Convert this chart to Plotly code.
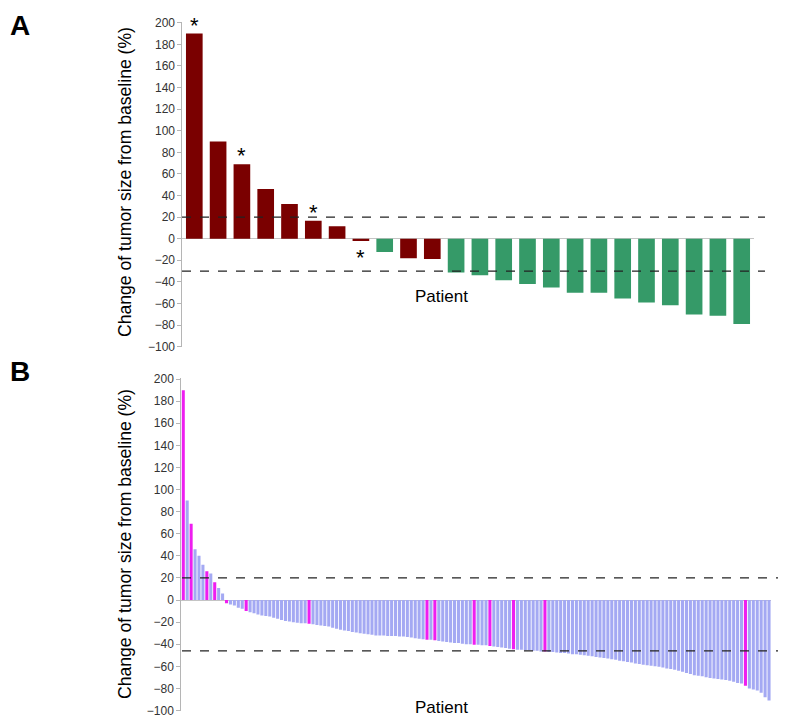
import plotly.graph_objects as go

# Panel A: per-patient change of tumour size (%)
a_values = [190, 90, 69, 46, 32, 16.6, 11.4, -2.2, -12.3, -18.2, -18.8,
            -31.4, -33.9, -38.5, -41.9, -45.3, -50.2, -50.2, -55.4, -59.1,
            -61.6, -70.2, -71.4, -79.1]
a_group = ["r", "r", "r", "r", "r", "r", "r", "r", "g", "r", "r",
           "g", "g", "g", "g", "g", "g", "g", "g", "g", "g", "g", "g", "g"]
a_starred = [0, 2, 5, 7]

# Panel B: all patients
b_values = [190, 90, 69, 46, 40, 32, 26, 24, 16, 11, 6, -3, -4, -5, -7, -8,
            -10, -11, -12, -13, -14, -14.5, -15, -16, -17, -18, -19, -19.5,
            -20, -20.5, -21, -21, -21.5, -22, -22.5, -23, -23.5, -24, -25,
            -26, -27, -27.5, -28, -29, -29.5, -30, -30.5, -31, -31.5, -32,
            -32, -32, -32.5, -32.5, -32.5, -33, -33, -33.5, -34, -34.5, -35,
            -35.5, -36, -36, -36.5, -37, -37.5, -38, -38.5, -39, -39, -39.5,
            -40, -40, -40.5, -40.5, -41, -41, -41.5, -42, -42.5, -43, -43.5,
            -44, -44.5, -45, -45, -45.5, -45.5, -46, -46, -46.5, -46.5, -47,
            -47, -47.5, -48, -48, -48.5, -49, -49, -49.5, -50, -50.5, -51,
            -51.5, -52, -52.5, -53, -53.5, -54, -55, -55.5, -56, -56.5, -57.5,
            -58, -58.5, -59, -59.5, -60, -60.5, -61, -62, -62.5, -63, -64,
            -65, -66, -67, -68, -68.5, -69, -70, -70.5, -71, -71.5, -72,
            -72.5, -73, -74, -75, -75.5, -77.5, -80, -81, -82, -84, -88, -91]
b_highlight = [0, 2, 6, 8, 11, 16, 32, 62, 64, 74, 78, 84, 92, 143]

a_cut_hi, a_cut_lo = 20, -30
b_cut_hi, b_cut_lo = 20, -46
y_ticks = list(range(-100, 201, 20))

RED = "#7a0000"
GREEN = "#359a68"
BLUE = "#a4a9f3"
MAGENTA = "#ee1ef0"
FONT = "Arial, Liberation Sans, sans-serif"

# the page body has an 8px margin, so the figure starts at (8, 8)
OFF = 8
W, H = 786 - OFF, 718 - OFF


def px_x(v):
    return (v - OFF) / W


def px_y(v):
    return 1 - (v - OFF) / H


a_colors = [RED if g == "r" else GREEN for g in a_group]
b_colors = [MAGENTA if i in b_highlight else BLUE for i in range(len(b_values))]

fig = go.Figure()
fig.add_trace(go.Bar(x=list(range(len(a_values))), y=a_values, marker_color=a_colors,
                     marker_line_width=0, xaxis="x", yaxis="y", showlegend=False))
fig.add_trace(go.Bar(x=list(range(len(b_values))), y=b_values, marker_color=b_colors,
                     marker_line_width=0, width=0.78, xaxis="x2", yaxis="y2", showlegend=False))

yax = dict(range=[-100, 201], tickvals=y_ticks, showgrid=False, showline=True,
           linecolor="#b5b5b5", linewidth=1, ticks="outside", ticklen=4,
           tickcolor="#b5b5b5", tickfont=dict(family=FONT, size=12, color="#333333"),
           zeroline=True, zerolinecolor="#c4c4c4", zerolinewidth=1, automargin=False)
xax = dict(showticklabels=False, showgrid=False, showline=False, zeroline=False, ticks="",
           automargin=False)

fig.update_layout(
    width=W, height=H, margin=dict(l=0, r=0, t=0, b=0, autoexpand=False),
    plot_bgcolor="white", paper_bgcolor="white", bargap=0.3,
    xaxis=dict(xax, domain=[px_x(182.4), px_x(753.6)], range=[-0.5, len(a_values) - 0.5], anchor="y"),
    yaxis=dict(yax, domain=[px_y(346.6), px_y(21.7)], anchor="x"),
    xaxis2=dict(xax, domain=[px_x(181.3), min(1, px_x(771))], range=[-0.5, len(b_values) - 0.5], anchor="y2"),
    yaxis2=dict(yax, domain=[px_y(710.5), px_y(378)], anchor="x2"),
)

# dashed cut-off lines
for y0, xr, x1 in [(a_cut_hi, "y", 765), (a_cut_lo, "y", 765), (b_cut_hi, "y2", 786), (b_cut_lo, "y2", 786)]:
    fig.add_shape(type="line", xref="paper", yref=xr, x0=px_x(182), x1=px_x(x1), y0=y0, y1=y0,
                  line=dict(color="#222222", width=1.3, dash="dash"))

# stars on panel A
for i in a_starred:
    v = a_values[i]
    if v >= 0:
        fig.add_annotation(x=i, y=v, xref="x", yref="y", text="*", showarrow=False,
                           yanchor="bottom", yshift=-6, font=dict(family=FONT, size=22, color="black"))
    else:
        fig.add_annotation(x=i, y=v, xref="x", yref="y", text="*", showarrow=False,
                           yanchor="top", yshift=-2, font=dict(family=FONT, size=22, color="black"))

ytitle = "Change of tumor size from baseline (%)"
for yc in [182, 544]:
    fig.add_annotation(x=px_x(125), y=px_y(yc), xref="paper", yref="paper", text=ytitle,
                       xanchor="center", yanchor="middle", textangle=-90, showarrow=False,
                       font=dict(family=FONT, size=17.6, color="black"))
for yc in [296, 707]:
    fig.add_annotation(x=px_x(441), y=px_y(yc), xref="paper", yref="paper", text="Patient",
                       xanchor="center", yanchor="middle", showarrow=False,
                       font=dict(family=FONT, size=17, color="black"))
for lbl, yc in [("A", 8), ("B", 354)]:
    fig.add_annotation(x=px_x(8), y=px_y(yc), xref="paper", yref="paper", text="<b>%s</b>" % lbl,
                       xanchor="left", yanchor="top", showarrow=False,
                       font=dict(family=FONT, size=28, color="black"))

fig.write_html("out.html")
